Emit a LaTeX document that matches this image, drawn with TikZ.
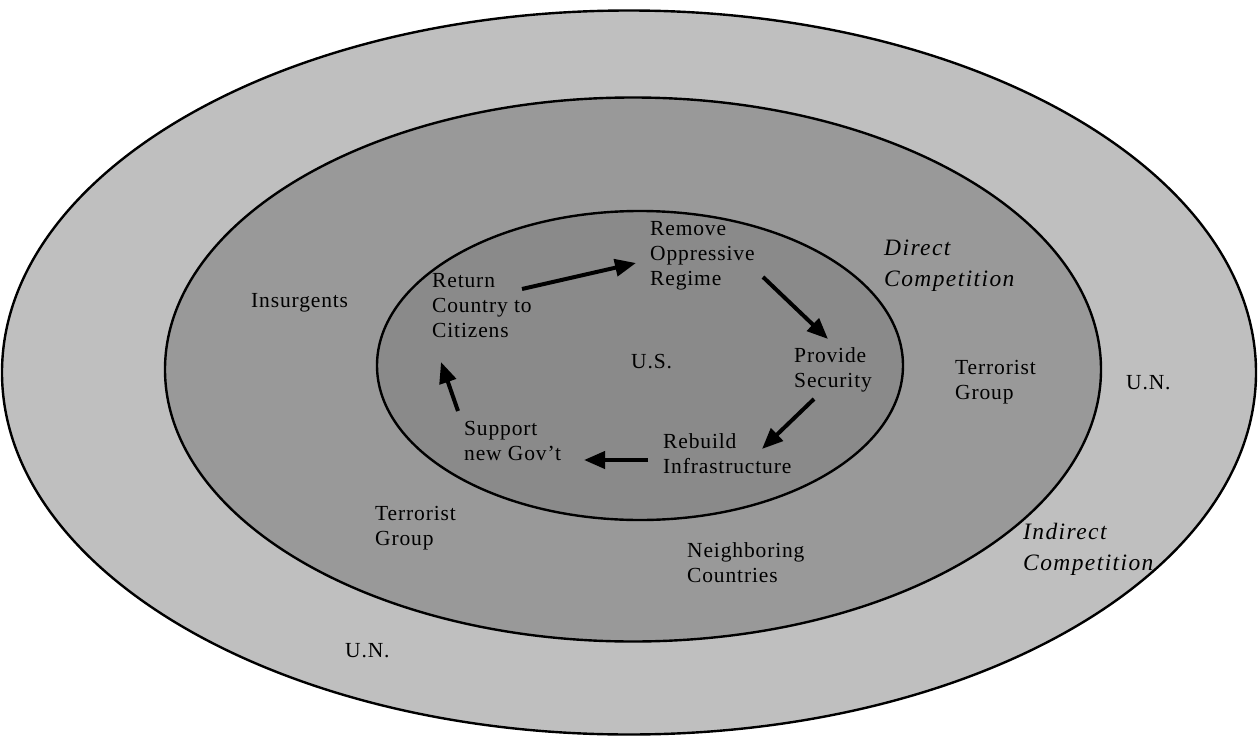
\documentclass[tikz,border=0pt]{standalone}
\usepackage{fontspec}
\setmainfont{Liberation Serif}[LetterSpace=4]
\newfontfamily\compfont{Liberation Serif}[LetterSpace=6]
\usetikzlibrary{arrows.meta}
\definecolor{outergray}{gray}{0.75}
\definecolor{midgray}{gray}{0.60}
\definecolor{innergray}{gray}{0.54}
\tikzset{
  ring/.style={draw=black,line width=2.4pt},
  lbl/.style={anchor=base west,inner sep=0pt,align=left,font=\fontsize{21.5}{25}\selectfont},
  comp/.style={anchor=base west,inner sep=0pt,align=left,font=\compfont\itshape\fontsize{23.5}{31}\selectfont},
  flow/.style={line width=4pt,-{Triangle[length=21pt,width=17pt]}}
}
\begin{document}
\begin{tikzpicture}[x=1pt,y=-1pt]
\useasboundingbox (0,0) rectangle (1259,736);
\fill[white] (0,0) rectangle (1259,736);
% rings
\draw[ring,fill=outergray] (629,372.5) ellipse [x radius=627,y radius=362];
\draw[ring,fill=midgray] (633,369.5) ellipse [x radius=468,y radius=272];
\draw[ring,fill=innergray] (640,365.5) ellipse [x radius=263,y radius=154.5];
% inner cycle labels (anchor = baseline of last line)
\node[lbl] (remove) at (650,285) {Remove\\Oppressive\\Regime};
\node[lbl] (return) at (432,337) {Return\\Country to\\Citizens};
\node[lbl] (us) at (631,368) {U.S.};
\node[lbl] (provide) at (794,387) {Provide\\Security};
\node[lbl] (support) at (464,460) {Support\\new Gov’t};
\node[lbl] (rebuild) at (663,473) {Rebuild\\Infrastructure};
% middle ring labels
\node[lbl] (insurg) at (251,307) {Insurgents};
\node[lbl] (terrR) at (955,399) {Terrorist\\Group};
\node[lbl] (terrL) at (375,545) {Terrorist\\Group};
\node[lbl] (neigh) at (687,582) {Neighboring\\Countries};
\node[comp] (direct) at (884,286) {Direct\\Competition};
% outer ring labels
\node[lbl] (unR) at (1126,389) {U.N.};
\node[lbl] (unL) at (345,657) {U.N.};
\node[comp] (indirect) at (1023,570) {Indirect\\Competition};
% arrows
\coordinate (a1s) at (522,289); \coordinate (a1e) at (636,263);
\coordinate (a2s) at (763,277); \coordinate (a2e) at (828,339);
\coordinate (a3s) at (814,399); \coordinate (a3e) at (762,449);
\coordinate (a4s) at (648,460); \coordinate (a4e) at (584,460);
\coordinate (a5s) at (458,411); \coordinate (a5e) at (441,362);
\draw[flow] (a1s) -- (a1e);
\draw[flow] (a2s) -- (a2e);
\draw[flow] (a3s) -- (a3e);
\draw[flow] (a4s) -- (a4e);
\draw[flow] (a5s) -- (a5e);
\end{tikzpicture}
\end{document}
